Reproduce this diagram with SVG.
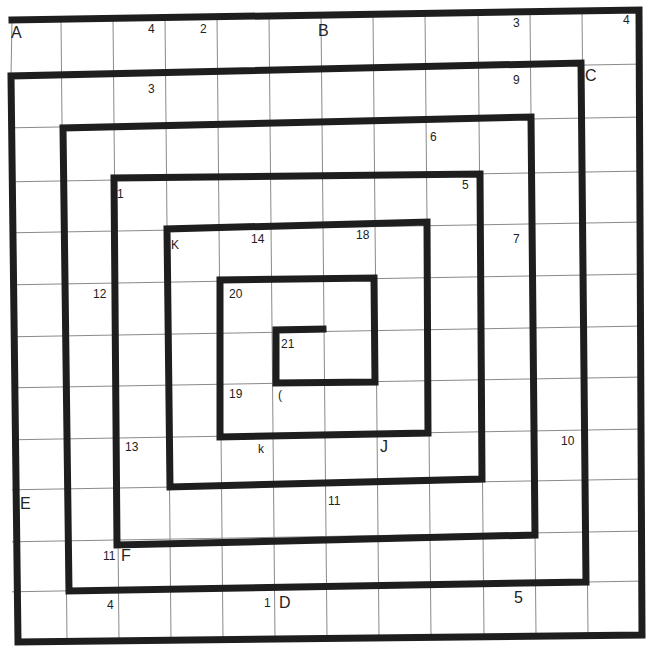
<svg xmlns="http://www.w3.org/2000/svg" width="651" height="648" viewBox="0 0 651 648">
<style>
.grid line{stroke:#8a8a8a;stroke-width:1}
.spiral{fill:none;stroke:#1e1e1e;stroke-width:7;stroke-linejoin:miter;stroke-linecap:square}
.lbl{font-family:"Liberation Sans",Arial,sans-serif;font-size:12px;fill:#222}
.big{font-size:16px}
</style>
<rect width="651" height="648" fill="#ffffff"/>
<g class="grid" id="grid">
<line x1="12" y1="20" x2="11" y2="76"/>
<line x1="61" y1="19.2" x2="67" y2="641.3"/>
<line x1="113" y1="18.4" x2="119" y2="640.5"/>
<line x1="165" y1="17.6" x2="171" y2="639.8"/>
<line x1="217" y1="16.8" x2="223" y2="639"/>
<line x1="269" y1="16" x2="275" y2="638.3"/>
<line x1="321" y1="15.2" x2="327" y2="637.5"/>
<line x1="373" y1="14.3" x2="379" y2="636.8"/>
<line x1="425" y1="13.4" x2="431" y2="636"/>
<line x1="478" y1="12.5" x2="484" y2="635.3"/>
<line x1="530" y1="11.7" x2="536" y2="634.5"/>
<line x1="582" y1="10.9" x2="588" y2="633.7"/>
<line x1="12" y1="74.8" x2="640" y2="64.1"/>
<line x1="12" y1="127.8" x2="640" y2="117.1"/>
<line x1="12" y1="181.8" x2="640" y2="171.1"/>
<line x1="12" y1="232.8" x2="640" y2="222.1"/>
<line x1="12" y1="284.8" x2="640" y2="274.1"/>
<line x1="12" y1="336.8" x2="640" y2="326.1"/>
<line x1="12" y1="387.8" x2="640" y2="377.1"/>
<line x1="12" y1="439.8" x2="640" y2="429.1"/>
<line x1="12" y1="489.8" x2="640" y2="479.1"/>
<line x1="12" y1="541.8" x2="640" y2="531.1"/>
<line x1="12" y1="591.8" x2="640" y2="581.1"/>
</g>
<g id="connectors">
<path class="spiral" d="M12,20 L639,10 L642,635 L18,642 L11,76 L581,63 L586,582 L69,591 L63,128 L531,117 L535,535 L117,545 L114,178 L480,174 L482,479 L170,487 L167,229 L427,222 L428,433 L220,437 L220,280 L374,278 L375,382 L276,383 L276,330 L323,329"/>
</g>
<g id="labels">
<text class="lbl big" x="11" y="38">A</text>
<text class="lbl" x="148" y="33">4</text>
<text class="lbl" x="200" y="33">2</text>
<text class="lbl big" x="318" y="36">B</text>
<text class="lbl" x="513" y="27">3</text>
<text class="lbl" x="623" y="24">4</text>
<text class="lbl big" x="585" y="81">C</text>
<text class="lbl" x="148" y="93">3</text>
<text class="lbl" x="513" y="84">9</text>
<text class="lbl" x="430" y="141">6</text>
<text class="lbl" x="117" y="198">1</text>
<text class="lbl" x="462" y="189">5</text>
<text class="lbl" x="171" y="249">K</text>
<text class="lbl" x="251" y="243">14</text>
<text class="lbl" x="356" y="239">18</text>
<text class="lbl" x="513" y="243">7</text>
<text class="lbl" x="93" y="298">12</text>
<text class="lbl" x="229" y="298">20</text>
<text class="lbl" x="281" y="348">21</text>
<text class="lbl" x="229" y="398">19</text>
<text class="lbl" x="278" y="399">(</text>
<text class="lbl" x="125" y="451">13</text>
<text class="lbl" x="258" y="453">k</text>
<text class="lbl big" x="380" y="452">J</text>
<text class="lbl" x="561" y="445">10</text>
<text class="lbl big" x="20" y="509">E</text>
<text class="lbl" x="328" y="505">11</text>
<text class="lbl" x="103" y="560">11</text>
<text class="lbl big" x="121" y="561">F</text>
<text class="lbl" x="107" y="609">4</text>
<text class="lbl" x="264" y="607">1</text>
<text class="lbl big" x="279" y="608">D</text>
<text class="lbl big" x="514" y="603">5</text>
</g>
</svg>
